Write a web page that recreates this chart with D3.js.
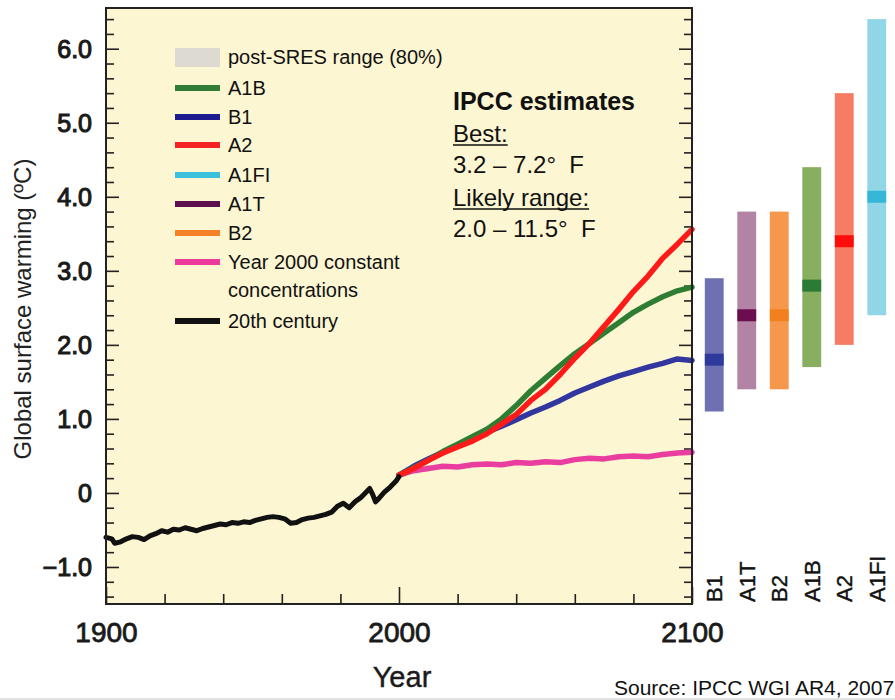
<!DOCTYPE html>
<html>
<head>
<meta charset="utf-8">
<script src="https://cdn.jsdelivr.net/npm/d3@7"></script>
<style>
  body { margin: 0; background: #fff; }
  svg { display: block; font-family: "Liberation Sans", Arial, sans-serif; }
</style>
</head>
<body>
<svg id="chart" width="895" height="700"></svg>
<script>
// 20th century observed
const histYears = [1900,1902,1903,1905,1907,1909,1911,1913,1915,1917,1919,1921,1923,1925,1927,1929,1931,1933,1935,1937,1939,1941,1943,1945,1947,1949,1951,1953,1955,1957,1959,1961,1963,1965,1967,1969,1971,1973,1975,1977,1979,1981,1983,1985,1987,1989,1990,1991,1992,1993,1995,1997,1999,2000];
const histValues = [-0.60,-0.62,-0.68,-0.66,-0.62,-0.59,-0.60,-0.63,-0.58,-0.55,-0.51,-0.53,-0.49,-0.50,-0.47,-0.49,-0.51,-0.48,-0.46,-0.44,-0.42,-0.43,-0.40,-0.41,-0.39,-0.40,-0.37,-0.35,-0.33,-0.32,-0.33,-0.35,-0.41,-0.40,-0.36,-0.34,-0.33,-0.31,-0.29,-0.26,-0.18,-0.14,-0.20,-0.12,-0.06,0.02,0.06,-0.02,-0.12,-0.08,0.01,0.08,0.16,0.22];

// scenario projections
const projYears = [2000,2005,2010,2015,2020,2025,2030,2035,2040,2045,2050,2055,2060,2065,2070,2075,2080,2085,2090,2095,2100];
const commitValues = [0.24,0.30,0.33,0.36,0.35,0.38,0.39,0.38,0.41,0.40,0.42,0.41,0.45,0.47,0.46,0.49,0.50,0.49,0.52,0.54,0.55];
const b1Values = [0.24,0.36,0.46,0.55,0.64,0.73,0.82,0.90,0.99,1.08,1.16,1.25,1.35,1.43,1.51,1.58,1.64,1.70,1.75,1.81,1.79];
const a1bValues = [0.24,0.34,0.44,0.56,0.66,0.76,0.86,1.00,1.18,1.38,1.55,1.72,1.88,2.02,2.16,2.30,2.44,2.55,2.65,2.73,2.78];
const a2Values = [0.24,0.33,0.44,0.54,0.62,0.70,0.80,0.93,1.06,1.25,1.40,1.60,1.82,2.02,2.25,2.48,2.72,2.93,3.17,3.36,3.56];

// end-of-century ranges (right panel)
const barNames = ['B1','A1T','B2','A1B','A2','A1FI'];
const barBest = [1.8,2.4,2.4,2.8,3.4,4.0];
const barLow = [1.1,1.4,1.4,1.7,2.0,2.4];
const barHigh = [2.9,3.8,3.8,4.4,5.4,6.4];
const barFill = ['#6f70b1','#b283a4','#f5984c','#88ae5f','#f67d63','#90d6e6'];
const barMark = ['#2f3b9c','#6a0e50','#f2801e','#2b7b34','#ff0c0c','#35b8d8'];

// legend
const legendNames = ['A1B','B1','A2','A1FI','A1T','B2','Year 2000 constant','20th century'];
const legendColors = ['#317b36','#1c1c90','#f42222','#3cc1dd','#5d0e4c','#f48027','#ec3b9a','#111111'];

const yMajor = [6,5,4,3,2,1,0,-1];
const yTickLabels = ['6.0','5.0','4.0','3.0','2.0','1.0','0','\u22121.0'];
const xMajor = [1900,2000,2100];

const svg = d3.select('#chart');
const plotL = 106, plotR = 692, plotT = 8, plotB = 604;

const x = d3.scaleLinear().domain([1900, 2100]).range([plotL, plotR]);
const y = d3.scaleLinear().domain([-1.5, 6.55]).range([plotB, plotT]);

// plot background
svg.append('rect')
    .attr('x', plotL).attr('y', plotT)
    .attr('width', plotR - plotL).attr('height', plotB - plotT)
    .attr('fill', '#fcf6d2');

// minor ticks every 0.2 on left and right
const yMinor = d3.range(-14, 66, 2).map(v => v / 10).filter(v => yMajor.indexOf(v) < 0);

const leftMinor = svg.append('g').attr('transform', `translate(${plotL},0)`)
    .call(d3.axisLeft(y).tickValues(yMinor).tickSize(-8).tickFormat(''));
const leftMajor = svg.append('g').attr('transform', `translate(${plotL},0)`)
    .call(d3.axisLeft(y).tickValues(yMajor).tickSize(-13).tickPadding(14)
        .tickFormat((d, i) => yTickLabels[i]));
const rightMinor = svg.append('g').attr('transform', `translate(${plotR},0)`)
    .call(d3.axisRight(y).tickValues(yMinor).tickSize(-8).tickFormat(''));
const rightMajor = svg.append('g').attr('transform', `translate(${plotR},0)`)
    .call(d3.axisRight(y).tickValues(yMajor).tickSize(-13).tickFormat(''));

const xMinor = d3.range(1920, 2100, 20).filter(v => xMajor.indexOf(v) < 0);
const bottomMinor = svg.append('g').attr('transform', `translate(0,${plotB})`)
    .call(d3.axisBottom(x).tickValues(xMinor).tickSize(-10).tickFormat(''));
const bottomMajor = svg.append('g').attr('transform', `translate(0,${plotB})`)
    .call(d3.axisBottom(x).tickValues(xMajor).tickSize(-17).tickPadding(18).tickFormat(d3.format('d')));

[leftMinor, leftMajor, rightMinor, rightMajor, bottomMinor, bottomMajor].forEach(g => {
    g.select('.domain').remove();
    g.selectAll('line').attr('stroke', '#222').attr('stroke-width', 1.6);
});
leftMajor.selectAll('text')
    .attr('font-size', 25).attr('fill', '#1a1a1a')
    .attr('stroke', '#1a1a1a').attr('stroke-width', 1.1)
    .attr('font-family', '"Liberation Sans", Arial, sans-serif')
    .attr('dy', '0.36em');
bottomMajor.selectAll('text')
    .attr('font-size', 28).attr('fill', '#1a1a1a')
    .attr('stroke', '#1a1a1a').attr('stroke-width', 0.8)
    .attr('font-family', '"Liberation Sans", Arial, sans-serif');

// lines
const line = d3.line().x(d => x(d[0])).y(d => y(d[1]));
const series = [
    { vals: commitValues, color: '#e93ea0' },
    { vals: b1Values, color: '#3237a0' },
    { vals: a1bValues, color: '#2f7d33' },
    { vals: a2Values, color: '#ff1a1a' }
];
const plot = svg.append('g');
series.forEach(s => {
    plot.append('path')
        .datum(projYears.map((yr, i) => [yr, s.vals[i]]))
        .attr('d', line)
        .attr('fill', 'none')
        .attr('stroke', s.color)
        .attr('stroke-width', 5.5)
        .attr('stroke-linejoin', 'round')
        .attr('stroke-linecap', 'round');
});
plot.append('path')
    .datum(histYears.map((yr, i) => [yr, histValues[i]]))
    .attr('d', line)
    .attr('fill', 'none')
    .attr('stroke', '#111')
    .attr('stroke-width', 5)
    .attr('stroke-linejoin', 'round')
    .attr('stroke-linecap', 'round');

// frame
svg.append('rect')
    .attr('x', plotL).attr('y', plotT)
    .attr('width', plotR - plotL).attr('height', plotB - plotT)
    .attr('fill', 'none').attr('stroke', '#222').attr('stroke-width', 2);

// legend
const legend = svg.append('g').attr('font-size', 20).attr('fill', '#111');
legend.append('rect')
    .attr('x', 175).attr('y', 48).attr('width', 45).attr('height', 19)
    .attr('fill', '#dddad2');
legend.append('text').attr('x', 228).attr('y', 64).text('post-SRES range (80%)');
const legendY = [88, 117, 145, 175, 204, 233, 262, 321];
legendNames.forEach((name, i) => {
    legend.append('line')
        .attr('x1', 175).attr('x2', 220)
        .attr('y1', legendY[i]).attr('y2', legendY[i])
        .attr('stroke', legendColors[i]).attr('stroke-width', 6);
    legend.append('text').attr('x', 228).attr('y', legendY[i] + 7).text(name);
});
legend.append('text').attr('x', 228).attr('y', 297).text('concentrations');

// IPCC estimates box
const note = svg.append('g').attr('fill', '#111').attr('font-size', 24);
note.append('text').attr('x', 453).attr('y', 110)
    .attr('font-weight', 'bold').attr('font-size', 25).text('IPCC estimates');
const noteLines = [
    { t: 'Best:', yy: 142, u: true },
    { t: '3.2 \u2013 7.2\u00B0  F', yy: 173, u: false },
    { t: 'Likely range:', yy: 206, u: true },
    { t: '2.0 \u2013 11.5\u00B0  F', yy: 237, u: false }
];
noteLines.forEach(l => {
    const t = note.append('text').attr('x', 453).attr('y', l.yy)
        .attr('xml:space', 'preserve').style('white-space', 'pre').text(l.t);
    if (l.u) {
        const w = t.node().getComputedTextLength();
        note.append('line')
            .attr('x1', 453).attr('x2', 453 + w)
            .attr('y1', l.yy + 3).attr('y2', l.yy + 3)
            .attr('stroke', '#111').attr('stroke-width', 1.6);
    }
});

// right panel bars
const xb = d3.scaleBand().domain(barNames).range([698, 893]).paddingInner(0.42).paddingOuter(0.21);
const bars = svg.append('g');
barNames.forEach((name, i) => {
    bars.append('rect')
        .attr('x', xb(name)).attr('width', xb.bandwidth())
        .attr('y', y(barHigh[i])).attr('height', y(barLow[i]) - y(barHigh[i]))
        .attr('fill', barFill[i]);
    bars.append('rect')
        .attr('x', xb(name)).attr('width', xb.bandwidth())
        .attr('y', y(barBest[i]) - 6).attr('height', 12)
        .attr('fill', barMark[i]);
    const cx = xb(name) + xb.bandwidth() / 2 + 8;
    bars.append('text')
        .attr('transform', `translate(${cx},602) rotate(-90)`)
        .attr('font-size', 22).attr('fill', '#111')
        .attr('stroke', '#111').attr('stroke-width', 0.4)
        .text(name);
});

// axis titles
svg.append('text')
    .attr('transform', 'translate(31,309) rotate(-90)')
    .attr('text-anchor', 'middle')
    .attr('font-size', 24).attr('fill', '#222')
    .text('Global surface warming (\u00BAC)');
svg.append('text')
    .attr('x', 402).attr('y', 687)
    .attr('text-anchor', 'middle')
    .attr('font-size', 29).attr('fill', '#1a1a1a')
    .attr('stroke', '#1a1a1a').attr('stroke-width', 0.4)
    .text('Year');

svg.append('text')
    .attr('x', 614).attr('y', 695)
    .attr('font-size', 21).attr('fill', '#111')
    .text('Source: IPCC WGI AR4, 2007');

svg.append('line')
    .attr('x1', 0).attr('x2', 895).attr('y1', 699).attr('y2', 699)
    .attr('stroke', '#e3e3e3').attr('stroke-width', 2);
</script>
</body>
</html>
